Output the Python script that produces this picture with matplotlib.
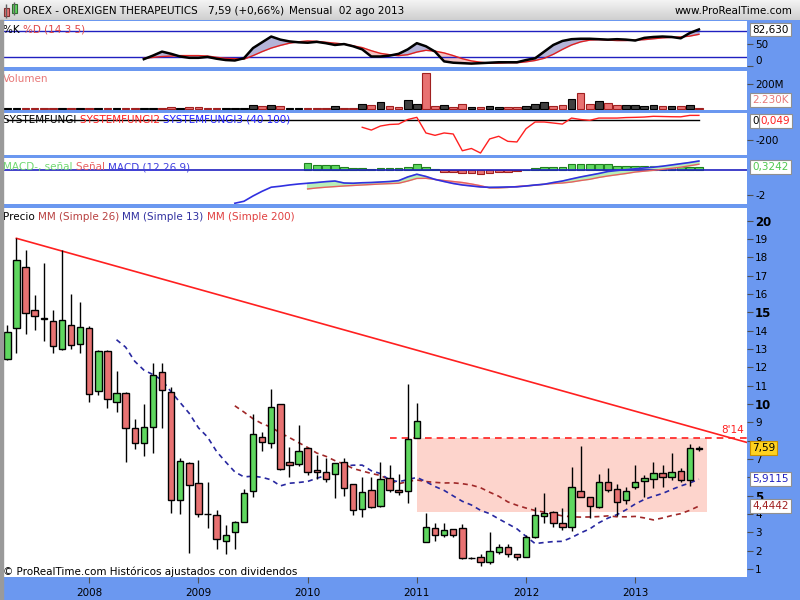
import numpy as np
import pandas as pd
import matplotlib
matplotlib.use("Agg")
import matplotlib.pyplot as plt
from matplotlib.patches import Rectangle
from matplotlib.colors import LinearSegmentedColormap
from matplotlib.transforms import blended_transform_factory

# monthly candles, Apr 2007 .. Aug 2013
opens = [12.44, 14.13, 17.46, 15.11, 14.68, 14.51, 12.98, 14.29, 13.26, 14.13,
         10.71, 12.91, 10.09, 10.58, 8.67, 7.86, 8.73, 11.73, 10.64, 4.76,
         6.76, 5.67, 4.02, 3.94, 2.54, 3.03, 3.58, 5.25, 8.22, 7.86,
         9.98, 6.82, 6.71, 7.58, 6.40, 6.27, 6.16, 6.82, 5.62, 4.26,
         5.31, 4.45, 5.95, 5.31, 5.25, 8.13, 2.49, 3.22, 2.85, 3.16,
         3.22, 1.58, 1.67, 1.40, 1.94, 2.18, 1.80, 1.64, 2.73, 3.91,
         4.12, 3.52, 3.27, 5.25, 4.91, 4.40, 5.73, 5.35, 4.76, 5.46,
         5.80, 5.89, 6.25, 6.03, 6.34, 5.85, 7.56]
highs = [14.31, 19.04, 18.40, 15.95, 17.68, 15.13, 18.40, 15.98, 15.55, 14.27,
         12.95, 12.95, 11.80, 10.67, 9.18, 10.00, 12.22, 12.22, 10.94, 7.04,
         6.85, 6.94, 5.76, 4.22, 3.40, 3.62, 5.35, 9.44, 8.49, 10.82,
         10.00, 7.64, 8.85, 7.60, 7.22, 7.04, 6.80, 7.04, 5.65, 6.03,
         6.03, 6.85, 6.67, 6.16, 11.09, 10.04, 4.07, 3.49, 3.49, 3.16,
         3.44, 1.65, 1.82, 3.00, 2.36, 2.36, 1.82, 2.85, 4.36, 5.13,
         4.15, 4.34, 6.55, 7.71, 4.91, 6.18, 6.49, 5.64, 5.46, 6.67,
         6.13, 6.85, 6.67, 7.34, 6.53, 7.82, 7.72]
lows = [12.40, 12.77, 13.80, 14.04, 13.44, 12.77, 12.95, 12.98, 12.77, 10.13,
        10.51, 9.77, 9.58, 6.85, 7.55, 7.18, 7.34, 8.71, 4.04, 3.98,
        1.85, 3.85, 3.22, 2.07, 1.80, 2.07, 3.55, 4.94, 7.45, 7.58,
        6.40, 6.03, 6.62, 6.13, 5.91, 5.76, 4.89, 5.00, 3.94, 3.82,
        4.33, 4.36, 5.22, 5.04, 4.58, 8.13, 2.47, 2.54, 2.76, 2.76,
        1.53, 1.56, 1.18, 1.25, 1.82, 1.67, 1.47, 1.64, 2.67, 3.52,
        3.31, 3.13, 3.09, 4.90, 3.76, 4.31, 5.18, 3.89, 4.53, 5.35,
        4.94, 5.40, 5.49, 5.85, 5.76, 5.54, 7.44]
closes = [13.94, 17.86, 14.95, 14.78, 14.65, 13.15, 14.57, 13.22, 14.18, 10.53,
          12.91, 10.26, 10.58, 8.67, 7.86, 8.73, 11.58, 10.76, 4.76, 6.91,
          5.58, 4.00, 3.98, 2.62, 2.85, 3.55, 5.13, 8.35, 7.91, 9.82,
          6.44, 6.66, 7.44, 6.31, 6.27, 5.89, 6.76, 5.40, 4.22, 5.18,
          4.36, 5.91, 5.31, 5.18, 8.09, 9.06, 3.27, 2.85, 3.13, 2.85,
          1.58, 1.61, 1.40, 2.00, 2.18, 1.80, 1.64, 2.73, 3.94, 4.07,
          3.49, 3.31, 5.49, 4.91, 4.45, 5.73, 5.31, 4.67, 5.25, 5.73,
          5.95, 6.22, 6.03, 6.27, 5.85, 7.62, 7.59]
# volume in millions
volumes = [3, 5, 4, 3, 3, 4, 3, 3, 4, 8,
           4, 8, 5, 8, 8, 5, 6, 9, 10, 9,
           10, 10, 8, 6, 5, 5, 5, 32, 19, 32,
           19, 4, 4, 6, 8, 8, 19, 8, 8, 40,
           27, 51, 19, 10, 72, 38, 286, 24, 32, 16,
           40, 11, 11, 24, 11, 11, 11, 19, 40, 51,
           19, 27, 78, 123, 40, 59, 46, 32, 27, 32,
           24, 32, 19, 24, 24, 32, 6]

# stochastic %K / %D (14 3 5), from candle 15 on
stoch_start = 15
stoch_k = [16, 24, 33, 28, 22, 19, 19, 21, 17, 14, 13, 18, 41, 54, 67, 60, 56, 54, 53, 55,
           52, 48, 50, 45, 38, 22, 22, 24, 28, 38, 52, 45, 33, 11, 8, 7, 6, 7, 8, 9,
           9, 9, 14, 18, 33, 48, 57, 61, 62, 62, 61, 60, 61, 60, 58, 64, 66, 67, 66, 63,
           75, 83]
stoch_d = [18, 20, 22, 23, 24, 24, 24, 23, 20, 18, 17, 16, 24, 33, 41, 47, 52, 55, 57, 56,
           54, 52, 50, 46, 42, 35, 29, 26, 24, 26, 32, 36, 34, 30, 24, 17, 12, 9, 7, 7,
           8, 8, 10, 13, 18, 27, 38, 48, 55, 59, 60, 59, 58, 58, 59, 60, 62, 64, 65, 66,
           68, 72]

# SYSTEMFUNGI2, from candle 39 on
fungi_start = 39
fungi2 = [-73, -100, -61, -46, -42, 2, 23, -128, -151, -128, -138, -300, -278, -322,
          -186, -160, -209, -215, -87, -22, -22, -32, -42, 16, 2, -6, 16, 16, 16, 21,
          23, 26, 33, 31, 29, 28, 42, 42]

# MACD (12 26 9)
macd_start = 25
macd_line = [-2.67, -2.51, -2.08, -1.70, -1.37, -1.29, -1.19, -1.11, -1.05, -0.99,
             -0.92, -0.87, -1.03, -1.05, -1.01, -0.99, -0.95, -0.91, -0.84, -0.54,
             -0.32, -0.50, -0.74, -0.91, -1.07, -1.19, -1.27, -1.35, -1.38, -1.37,
             -1.35, -1.34, -1.27, -1.19, -1.13, -0.99, -0.87, -0.70, -0.54, -0.40,
             -0.26, -0.10, -0.02, 0.05, 0.12, 0.19, 0.25, 0.33, 0.43, 0.53,
             0.63, 0.75]
signal_start = 33
signal_line = [-1.51, -1.43, -1.37, -1.32, -1.27, -1.23, -1.19, -1.15, -1.11, -1.08,
               -1.05, -0.87, -0.66, -0.65, -0.74, -0.83, -0.91, -0.99, -1.11, -1.25,
               -1.43, -1.43, -1.39, -1.31, -1.27, -1.21, -1.13, -1.07, -1.03, -0.95,
               -0.83, -0.73, -0.58, -0.46, -0.36, -0.26, -0.14, -0.07, 0.00, 0.08,
               0.16, 0.25, 0.37, 0.49]
macd_hist = [0.57, 0.43, 0.43, 0.43, 0.29, 0.16, 0.16, 0.11, 0.16, 0.16,
             0.21, 0.29, 0.49, 0.24, 0.11, -0.16, -0.16, -0.24, -0.24, -0.32,
             -0.24, -0.16, -0.14, -0.08, 0.0, 0.16, 0.29, 0.29, 0.29, 0.49,
             0.49, 0.49, 0.49, 0.49, 0.37, 0.37, 0.35, 0.35, 0.35, 0.35,
             0.29, 0.27, 0.29, 0.27]

year_pos = [9, 21, 33, 45, 57, 69]
year_labels = ["2008", "2009", "2010", "2011", "2012", "2013"]
price_ticks = list(range(1, 21))
hidden_ticks = [6]  # covered by the 5,9115 box in the original

# drawn objects on the price panel
trend_x = [1, 81.3]
trend_y = [19.04, 7.90]
resist_level = 8.14
resist_from = 42
zone_x = [45, 76.85]
zone_y = [4.12, 8.13]

W, H = 800, 600
BLUE = "#6b98f0"
GREEN = "#5fd75f"
RED = "#e87272"
XL, XR = -0.53, 81.25


def rect(x0, y0, x1, y1):
    return [x0 / W, 1 - y1 / H, (x1 - x0) / W, (y1 - y0) / H]


def style(ax, lo, hi):
    ax.set_xlim(XL, XR)
    ax.set_ylim(lo, hi)
    for s in ax.spines.values():
        s.set_visible(False)
    ax.yaxis.tick_right()
    ax.tick_params(axis="y", direction="out", length=4, width=0.8,
                   color="#505050", pad=2, labelsize=7.5)
    ax.set_xticks([])


def color_text(ax, x, y, parts, size=7.5):
    t = None
    for s, c in parts:
        if t is None:
            t = ax.annotate(s, xy=(x, H - y), xycoords="figure pixels",
                            va="bottom", ha="left", color=c, fontsize=size)
        else:
            t = ax.annotate(s, xy=(1, 0), xycoords=t, va="bottom", ha="left",
                            color=c, fontsize=size)
    return t


def value_box(ax, y, s, fc, ec, tc):
    tr = blended_transform_factory(ax.transAxes, ax.transData)
    ax.text(1.0075, y, s, transform=tr, va="center", ha="left", fontsize=7.5,
            color=tc, zorder=10,
            bbox=dict(boxstyle="square,pad=0.18", fc=fc, ec=ec, lw=0.8))


fig = plt.figure(figsize=(8, 6), dpi=100)
fig.patch.set_facecolor(BLUE)
fig.patches.append(Rectangle((0, 0), 2.5 / W, 580 / H, transform=fig.transFigure,
                             color="#9a9a9a", zorder=0))

# header bar
ax_h = fig.add_axes(rect(0, 0, 800, 20.5))
grad = LinearSegmentedColormap.from_list("g", ["#f6f6f6", "#cfcfcf"])
ax_h.imshow(np.linspace(0, 1, 50).reshape(-1, 1), cmap=grad, aspect="auto",
            extent=[0, 800, 20.5, 0])
ax_h.set_xlim(0, 800)
ax_h.set_ylim(20.5, 0)
ax_h.axis("off")
ax_h.vlines([6, 14], [4, 2], [18, 15], color="#606060", lw=1)
ax_h.add_patch(Rectangle((3.5, 8), 5, 8, fc=RED, ec="#803030", lw=0.8))
ax_h.add_patch(Rectangle((11.5, 4), 5, 9, fc=GREEN, ec="#307030", lw=0.8))
ax_h.text(23, 10.5, "OREX - OREXIGEN THERAPEUTICS", va="center", fontsize=7.5)
ax_h.text(208, 10.5, "7,59 (+0,66%)", va="center", fontsize=7.5)
ax_h.text(289, 10.5, "Mensual  02 ago 2013", va="center", fontsize=7.5)
ax_h.text(792, 10.5, "www.ProRealTime.com", va="center", ha="right", fontsize=7.5)

n = len(closes)
idx = np.arange(n)
o = np.array(opens)
c = np.array(closes)

# stochastic panel
ax_st = fig.add_axes(rect(2.5, 21, 746.7, 66.7))
style(ax_st, -1, 102)
sx = np.arange(stoch_start, stoch_start + len(stoch_k))
k = np.array(stoch_k, dtype=float)
d = np.array(stoch_d, dtype=float)
ax_st.axhline(80, color="#2020c0", lw=1)
ax_st.axhline(20, color="#2020c0", lw=1)
ax_st.fill_between(sx, k, d, where=k >= d, interpolate=True, color="#b4b4d8")
ax_st.fill_between(sx, k, d, where=k < d, interpolate=True, color="#f4c4c4")
ax_st.plot(sx, d, color="#e02020", lw=1)
ax_st.plot(sx, k, color="black", lw=1.8)
ax_st.set_yticks([0, 50])
ax_st.set_yticklabels(["0", "50"])
ax_st.get_yticklabels()[0].set_va("bottom")
value_box(ax_st, 82.63, "82,630", "white", "#909090", "black")
color_text(ax_st, 3, 35, [("%K ", "black"), ("%D (14 3 5)", "#e04848")])

# volume panel
ax_v = fig.add_axes(rect(2.5, 70.5, 746.7, 109.7))
style(ax_v, -8, 304)
vol_up = np.r_[True, c[1:] >= c[:-1]]
ax_v.bar(idx[vol_up], np.array(volumes)[vol_up], width=0.85, color="#404040",
         edgecolor="black", lw=0.8)
ax_v.bar(idx[~vol_up], np.array(volumes)[~vol_up], width=0.85, color=RED,
         edgecolor="#a02020", lw=0.8)
ax_v.set_yticks([200])
ax_v.set_yticklabels(["200M"])
value_box(ax_v, 70, "2.230K", "white", "#909090", "#e87878")
color_text(ax_v, 3, 84, [("Volumen", "#e87878")])

# SYSTEMFUNGI panel
ax_f = fig.add_axes(rect(2.5, 113, 746.7, 155.3))
style(ax_f, -344, 65)
fx = np.arange(fungi_start, fungi_start + len(fungi2))
ax_f.plot(idx, np.zeros(n), color="black", lw=1)
ax_f.plot(fx, fungi2, color="#ff2020", lw=1)
ax_f.set_yticks([-200])
ax_f.set_yticklabels(["-200"])
tr = blended_transform_factory(ax_f.transAxes, ax_f.transData)
ax_f.text(1.0075, -15, "0", transform=tr, va="center", ha="left", fontsize=7.5,
          bbox=dict(boxstyle="square,pad=0.18", fc="white", ec="#909090", lw=0.8))
ax_f.text(1.019, -15, "0,049", transform=tr, va="center", ha="left", fontsize=7.5,
          color="#ff2020",
          bbox=dict(boxstyle="square,pad=0.18", fc="white", ec="#909090", lw=0.8))
color_text(ax_f, 3, 125, [("SYSTEMFUNGI ", "black"), ("SYSTEMFUNGI2 ", "#ff2020"),
                          ("SYSTEMFUNGI3 (40 100)", "#2020ff")])

# MACD panel
ax_m = fig.add_axes(rect(2.5, 158.3, 746.7, 204))
style(ax_m, -2.73, 0.97)
hx = np.arange(signal_start, signal_start + len(macd_hist))
hist = np.array(macd_hist)
ax_m.bar(hx[hist >= 0], hist[hist >= 0], width=0.85, color=GREEN,
         edgecolor="#208020", lw=0.8)
ax_m.bar(hx[hist < 0], hist[hist < 0], width=0.85, color=RED,
         edgecolor="#a02020", lw=0.8)
ax_m.axhline(0, color="#2020c0", lw=1.2)
mx = np.arange(macd_start, macd_start + len(macd_line))
m = np.array(macd_line)
sg = np.array(signal_line)
m_common = m[signal_start - macd_start:]
ax_m.fill_between(hx, m_common, sg, where=m_common >= sg, interpolate=True,
                  color="#b8efb8")
ax_m.fill_between(hx, m_common, sg, where=m_common < sg, interpolate=True,
                  color="#f4c0c0")
ax_m.plot(hx, sg, color="#e86060", lw=1)
ax_m.plot(mx, m, color="#3030e0", lw=1.2)
ax_m.set_yticks([-2])
ax_m.set_yticklabels(["-2"])
value_box(ax_m, 0.24, "0,3242", "white", "#909090", "#50c850")
color_text(ax_m, 3, 172, [("MACD-, señal ", "#70d870"), ("Señal ", "#e86060"),
                          ("MACD (12 26 9)", "#4040e0")])

# price panel
ax_p = fig.add_axes(rect(2.5, 207.7, 746.7, 576.7))
style(ax_p, 0.578, 20.71)
ax_p.add_patch(Rectangle((zone_x[0], zone_y[0]), zone_x[1] - zone_x[0],
                         zone_y[1] - zone_y[0], fc="#fdd4cc", ec="none", zorder=0))
ax_p.plot([resist_from, XR], [resist_level, resist_level], color="#ff2020", lw=1.2,
          ls=(0, (4, 3)), zorder=1)
ax_p.plot(trend_x, trend_y, color="#ff2020", lw=1.2, zorder=1)
ax_p.text(79.7, 8.58, "8'14", color="#ff2020", fontsize=7.5, ha="center", va="center")

sma13 = pd.Series(closes).rolling(13).mean()
sma26 = pd.Series(closes).rolling(26).mean()
ax_p.plot(idx, sma26, color="#a02828", lw=1.2, ls=(0, (3, 2.5)), zorder=2)
ax_p.plot(idx, sma13, color="#2828a0", lw=1.2, ls=(0, (3, 2.5)), zorder=2)

up = c >= o
ax_p.vlines(idx, lows, highs, color="black", lw=1, zorder=3)
body = np.maximum(np.abs(c - o), 0.04)
ax_p.bar(idx[up], body[up], bottom=o[up], width=0.7, color=GREEN,
         edgecolor="black", lw=1, zorder=4)
ax_p.bar(idx[~up], body[~up], bottom=c[~up], width=0.7, color=RED,
         edgecolor="black", lw=1, zorder=4)

ax_p.set_yticks(price_ticks)
ax_p.set_yticklabels(["" if v in hidden_ticks else str(v) for v in price_ticks])
for lab, v in zip(ax_p.get_yticklabels(), price_ticks):
    if v % 5 == 0:
        lab.set_fontweight("bold")
        lab.set_fontsize(8.5)
ax_p.set_xticks(year_pos)
ax_p.set_xticklabels(year_labels)
ax_p.tick_params(axis="x", direction="out", length=4, width=0.8, color="#505050",
                 pad=4, labelsize=7.5)
value_box(ax_p, 7.59, "7,59", "#ffd21f", "#c89000", "black")
value_box(ax_p, 5.9115, "5,9115", "white", "#909090", "#2020c0")
value_box(ax_p, 4.4442, "4,4442", "white", "#909090", "#a02020")
color_text(ax_p, 3, 222, [("Precio ", "black"), ("MM (Simple 26) ", "#b84040"),
                          ("MM (Simple 13) ", "#3030a0"), ("MM (Simple 200)", "#e04040")])
color_text(ax_p, 3, 577, [("© ProRealTime.com Históricos ajustados con dividendos",
                           "black")])

fig.savefig("out.png", dpi=100, facecolor=fig.get_facecolor())
